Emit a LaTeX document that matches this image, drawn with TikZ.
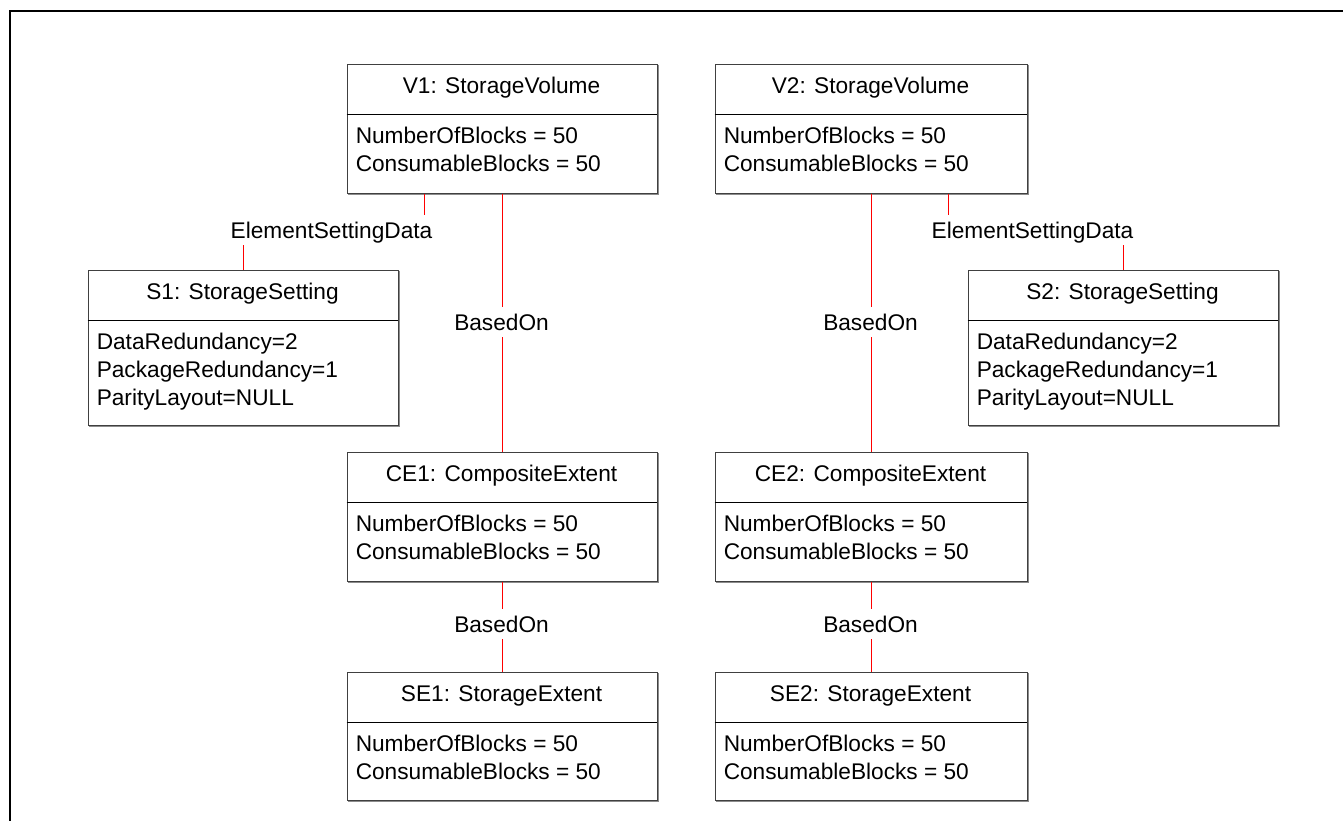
\documentclass[tikz,border=0pt]{standalone}
\usepackage{fontspec}
\setmainfont{Liberation Sans}
\usetikzlibrary{calc}
\tikzset{
  boxshape/.style={draw=black!75, line width=0.75pt, fill=white, inner sep=0pt, rectangle, anchor=north west},
  shadowline/.style={draw=black!45, line width=1pt},
  divline/.style={draw=black, line width=0.75pt},
  titletext/.style={inner sep=0pt, anchor=base, font=\fontsize{17}{21}\selectfont},
  attrtext/.style={inner sep=0pt, anchor=north west, align=left, font=\fontsize{17}{21}\selectfont},
  conn/.style={draw=red, line width=0.75pt},
  lbl/.style={fill=white, inner xsep=2pt, inner ysep=5pt, text height=12.4pt, text depth=0pt, anchor=base, font=\fontsize{17}{21}\selectfont},
  frameline/.style={draw=black, line width=1.5pt},
}
\newcommand\umlbox[7]{%
  \node[boxshape, minimum width=#4*0.75pt, minimum height=#5*0.75pt] (#1) at (#2,#3) {};
  \draw[shadowline] ([shift={(0.9pt,-0.9pt)}]#1.north east) -- ([shift={(0.9pt,-0.9pt)}]#1.south east) -- ([shift={(0.9pt,-0.9pt)}]#1.south west);
  \draw[divline] (#2,#3+51) -- (#2+#4,#3+51);
  \node[titletext] (#1-title) at (#2+#4/2,#3+29.5) {#6};
  \node[attrtext] (#1-attrs) at (#2+9,#3+80-17.33) {\rule{0pt}{13pt}#7};
}
\begin{document}
\begin{tikzpicture}[x=0.75pt,y=-0.75pt]
\useasboundingbox (0,0) rectangle (1343,821);
\fill[white] (0,0) rectangle (1343,821);
\draw[frameline] (10,821) -- (10,11) -- (1343,11);

\umlbox{V1}{346.5}{63.5}{310}{129}{V1: StorageVolume}{NumberOfBlocks = 50\\ConsumableBlocks = 50}
\umlbox{V2}{714.5}{63.5}{312}{129}{V2: StorageVolume}{NumberOfBlocks = 50\\ConsumableBlocks = 50}
\umlbox{S1}{87.5}{269.5}{310}{155}{S1: StorageSetting}{DataRedundancy=2\\PackageRedundancy=1\\ParityLayout=NULL}
\umlbox{S2}{967.5}{269.5}{310}{155}{S2: StorageSetting}{DataRedundancy=2\\PackageRedundancy=1\\ParityLayout=NULL}
\umlbox{CE1}{346.5}{451.5}{310}{129}{CE1: CompositeExtent}{NumberOfBlocks = 50\\ConsumableBlocks = 50}
\umlbox{CE2}{714.5}{451.5}{312}{129}{CE2: CompositeExtent}{NumberOfBlocks = 50\\ConsumableBlocks = 50}
\umlbox{SE1}{346.5}{671.5}{310}{128}{SE1: StorageExtent}{NumberOfBlocks = 50\\ConsumableBlocks = 50}
\umlbox{SE2}{714.5}{671.5}{312}{128}{SE2: StorageExtent}{NumberOfBlocks = 50\\ConsumableBlocks = 50}

\draw[conn] ([xshift=-58.5pt]V1.south) -- ++(0,38) -| (S1.north);
\draw[conn] ([xshift=57.75pt]V2.south) -- ++(0,39) -| (S2.north);
\draw[conn] (V1.south) -- (CE1.north);
\draw[conn] (V2.south) -- (CE2.north);
\draw[conn] (CE1.south) -- (SE1.north);
\draw[conn] (CE2.south) -- (SE2.north);

\node[lbl] (esd1) at (331.5,238) {ElementSettingData};
\node[lbl] (esd2) at (1032.5,238) {ElementSettingData};
\node[lbl] (bo1) at (501.5,330) {BasedOn};
\node[lbl] (bo2) at (870.5,330) {BasedOn};
\node[lbl] (bo3) at (501.5,632) {BasedOn};
\node[lbl] (bo4) at (870.5,632) {BasedOn};
\end{tikzpicture}
\end{document}
